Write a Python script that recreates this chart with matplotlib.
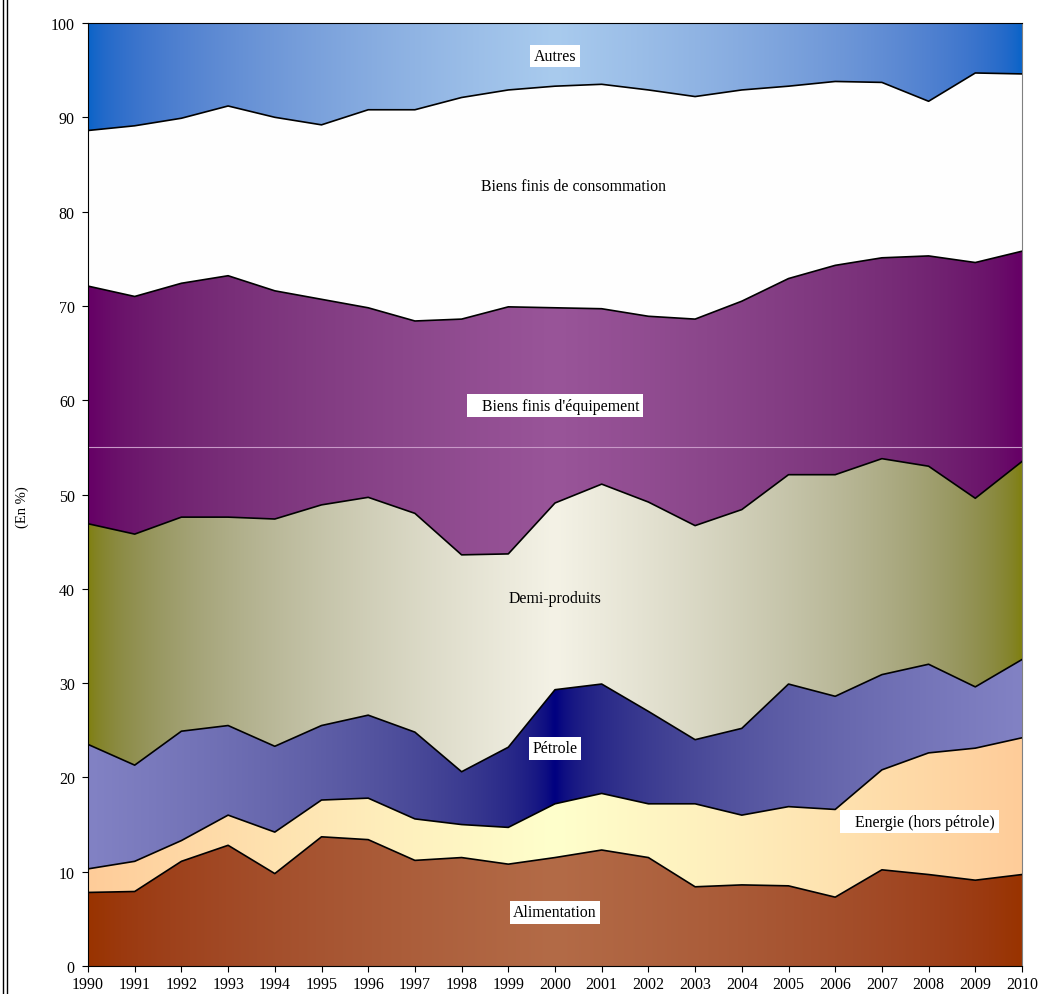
import matplotlib
matplotlib.use('Agg')
import matplotlib.pyplot as plt
import numpy as np
from matplotlib.colors import to_rgb
from matplotlib.lines import Line2D

plt.rcParams['font.family'] = ['Liberation Serif', 'DejaVu Serif']

years = list(range(1990, 2011))

# parts in % of total, bottom to top
alimentation = [7.8, 7.9, 11.1, 12.8, 9.8, 13.7, 13.4, 11.2, 11.5, 10.8, 11.5,
                12.3, 11.5, 8.4, 8.6, 8.5, 7.3, 10.2, 9.7, 9.1, 9.7]
energie = [2.5, 3.2, 2.2, 3.2, 4.4, 3.9, 4.4, 4.4, 3.5, 3.9, 5.7,
           6.0, 5.7, 8.8, 7.4, 8.4, 9.3, 10.6, 12.9, 14.0, 14.5]
petrole = [13.2, 10.2, 11.6, 9.5, 9.1, 7.9, 8.8, 9.2, 5.6, 8.5, 12.1,
           11.6, 9.8, 6.8, 9.2, 13.0, 12.0, 10.1, 9.4, 6.5, 8.3]
demi_produits = [23.4, 24.5, 22.7, 22.1, 24.1, 23.4, 23.1, 23.2, 23.0, 20.5, 19.8,
                 21.2, 22.2, 22.7, 23.2, 22.2, 23.5, 22.9, 21.0, 20.0, 21.0]
equipement = [25.2, 25.2, 24.8, 25.6, 24.2, 21.8, 20.1, 20.4, 25.0, 26.2, 20.7,
              18.6, 19.7, 21.9, 22.1, 20.8, 22.2, 21.3, 22.3, 25.0, 22.3]
consommation = [16.5, 18.1, 17.5, 18.0, 18.4, 18.5, 21.0, 22.4, 23.5, 23.0, 23.5,
                23.8, 24.0, 23.6, 22.4, 20.4, 19.5, 18.6, 16.4, 20.1, 18.8]
autres = [11.4, 10.9, 10.1, 8.8, 10.0, 10.8, 9.2, 9.2, 7.9, 7.1, 6.7,
          6.5, 7.1, 7.8, 7.1, 6.7, 6.2, 6.3, 8.3, 5.3, 5.4]

# (values, edge colour, centre colour) for the horizontal gradients
layers = [
    (alimentation, '#993300', '#B36B47'),
    (energie, '#FFCC99', '#FFFFCC'),
    (petrole, '#8282C4', '#000080'),
    (demi_produits, '#808010', '#F4F2E6'),
    (equipement, '#660066', '#995599'),
    (consommation, '#FFFFFF', '#FFFFFF'),
    (autres, '#0A64C8', '#A9CBEE'),
]


def to_lin(c):
    c = np.asarray(c)
    return np.where(c <= 0.04045, c / 12.92, ((c + 0.055) / 1.055) ** 2.4)


def to_srgb(c):
    c = np.clip(c, 0, 1)
    return np.where(c <= 0.0031308, c * 12.92, 1.055 * c ** (1 / 2.4) - 0.055)


fig = plt.figure(figsize=(10.43, 9.95), dpi=100)
ax = fig.add_axes([88/1043, 28/995, 934/1043, 943/995])

xs = np.linspace(years[0], years[-1], 500)
t = 1 - np.abs(xs - 2000) / 10.0

bottom = np.zeros(len(years))
for vals, edge, center in layers:
    top = bottom + np.array(vals)
    poly = ax.fill_between(years, bottom, top, facecolor='none', edgecolor='none')
    e = to_lin(to_rgb(edge))
    c = to_lin(to_rgb(center))
    grad = to_srgb(e + (c - e) * t[:, None])[None, :, :]
    im = ax.imshow(grad, extent=[years[0], years[-1], 0, 100], aspect='auto',
                   interpolation='bilinear', zorder=1)
    im.set_clip_path(poly.get_paths()[0], transform=ax.transData)
    ax.plot(years, top, color='black', lw=1.2, zorder=3)
    bottom = top

# faint line across the purple band
ax.axhline(55, color='#C898C8', lw=0.8, zorder=2)

ax.set_xlim(1990, 2010)
ax.set_ylim(0, 100)
ax.set_xticks(years)
ax.set_yticks(range(0, 101, 10))
ax.tick_params(direction='out', length=4.5, labelsize=11.5, colors='black')
ax.tick_params(axis='x', pad=2.5)
ax.tick_params(axis='y', pad=5)
for s in ['left', 'bottom', 'top']:
    ax.spines[s].set_color('black')
ax.spines['right'].set_color('#808080')

fig.text(22/1043, 1 - 507/995, '(En %)', rotation=90, ha='center', va='center', fontsize=10.5)

box = dict(facecolor='white', edgecolor='none', pad=2.5)
fs = 11.4
ax.text(2000.0, 96.5, 'Autres', ha='center', va='center', fontsize=fs, bbox=box, zorder=5)
ax.text(2000.4, 82.7, 'Biens finis de consommation', ha='center', va='center', fontsize=fs, zorder=5)
ax.text(2000.0, 59.4, "   Biens finis d'équipement", ha='center', va='center', fontsize=fs, bbox=box, zorder=5)
ax.text(2000.0, 39.0, 'Demi-produits', ha='center', va='center', fontsize=fs, zorder=5)
ax.text(2000.0, 23.1, 'Pétrole', ha='center', va='center', fontsize=fs, bbox=box, zorder=5)
ax.text(2007.8, 15.3, '   Energie (hors pétrole)', ha='center', va='center', fontsize=fs, bbox=box, zorder=5)
ax.text(2000.0, 5.7, 'Alimentation', ha='center', va='center', fontsize=fs, bbox=box, zorder=5)

# double frame line on the left edge
fig.add_artist(Line2D([3/1043, 3/1043], [0, 1], color='black', lw=1))
fig.add_artist(Line2D([6.5/1043, 6.5/1043], [0, 1], color='black', lw=1))

fig.savefig('out.png', dpi=100)
